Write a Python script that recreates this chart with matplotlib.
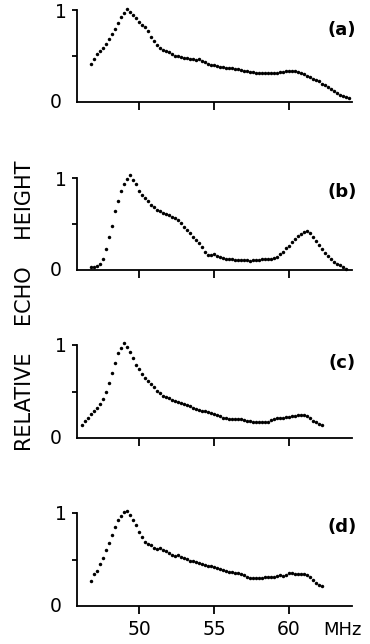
import numpy as np
import matplotlib
matplotlib.use("Agg")
import matplotlib.pyplot as plt

# ---- data (relative echo height vs frequency, dots every 0.2 MHz) ----
step_mhz = 0.2

start_a = 46.8
echo_a = [0.41, 0.47, 0.52, 0.555, 0.59, 0.63, 0.69, 0.74, 0.79, 0.86,
          0.92, 0.97, 1.01, 0.98, 0.95, 0.91, 0.87, 0.84, 0.81, 0.77,
          0.71, 0.66, 0.62, 0.59, 0.57, 0.555, 0.54, 0.525, 0.505, 0.495,
          0.485, 0.48, 0.475, 0.47, 0.465, 0.46, 0.47, 0.45, 0.43, 0.415,
          0.40, 0.40, 0.39, 0.385, 0.38, 0.375, 0.37, 0.365, 0.36, 0.355,
          0.35, 0.34, 0.335, 0.33, 0.325, 0.32, 0.315, 0.31, 0.31, 0.31,
          0.315, 0.32, 0.32, 0.325, 0.33, 0.335, 0.34, 0.34, 0.335, 0.33,
          0.315, 0.30, 0.285, 0.27, 0.255, 0.24, 0.225, 0.20, 0.18, 0.16,
          0.14, 0.12, 0.10, 0.08, 0.07, 0.055, 0.045]

start_b = 46.8
echo_b = [0.03, 0.035, 0.04, 0.06, 0.12, 0.23, 0.36, 0.48, 0.64, 0.75,
          0.86, 0.94, 0.99, 1.03, 0.98, 0.93, 0.86, 0.81, 0.78, 0.75,
          0.71, 0.68, 0.655, 0.64, 0.625, 0.61, 0.60, 0.58, 0.56, 0.54,
          0.515, 0.47, 0.44, 0.40, 0.36, 0.33, 0.29, 0.245, 0.20, 0.165,
          0.16, 0.17, 0.15, 0.14, 0.13, 0.125, 0.12, 0.115, 0.11, 0.11,
          0.105, 0.105, 0.105, 0.10, 0.105, 0.105, 0.11, 0.115, 0.12, 0.12,
          0.125, 0.13, 0.145, 0.17, 0.20, 0.235, 0.265, 0.30, 0.34, 0.37,
          0.395, 0.41, 0.42, 0.40, 0.36, 0.315, 0.27, 0.23, 0.185, 0.15,
          0.115, 0.085, 0.07, 0.055, 0.03, 0.01]

start_c = 46.2
echo_c = [0.14, 0.18, 0.22, 0.255, 0.285, 0.32, 0.365, 0.42, 0.50, 0.59,
          0.70, 0.81, 0.91, 0.97, 1.02, 0.98, 0.93, 0.86, 0.78, 0.74,
          0.69, 0.64, 0.61, 0.585, 0.55, 0.51, 0.48, 0.455, 0.44, 0.425,
          0.41, 0.40, 0.39, 0.38, 0.365, 0.35, 0.34, 0.325, 0.315, 0.30,
          0.295, 0.29, 0.275, 0.265, 0.255, 0.245, 0.235, 0.22, 0.21, 0.20,
          0.20, 0.20, 0.20, 0.20, 0.195, 0.185, 0.18, 0.175, 0.175, 0.175,
          0.175, 0.175, 0.175, 0.19, 0.20, 0.21, 0.215, 0.22, 0.225, 0.23,
          0.235, 0.24, 0.245, 0.25, 0.25, 0.24, 0.21, 0.185, 0.17, 0.15,
          0.135]

start_d = 46.8
echo_d = [0.27, 0.34, 0.38, 0.45, 0.52, 0.60, 0.68, 0.76, 0.85, 0.92,
          0.97, 1.01, 1.02, 0.98, 0.92, 0.87, 0.80, 0.74, 0.69, 0.665,
          0.655, 0.62, 0.615, 0.62, 0.60, 0.59, 0.57, 0.55, 0.54, 0.55,
          0.525, 0.515, 0.505, 0.485, 0.48, 0.475, 0.465, 0.455, 0.445, 0.435,
          0.43, 0.42, 0.405, 0.40, 0.39, 0.38, 0.37, 0.365, 0.355, 0.35,
          0.345, 0.335, 0.31, 0.305, 0.30, 0.30, 0.305, 0.305, 0.31, 0.31,
          0.31, 0.315, 0.325, 0.33, 0.32, 0.33, 0.35, 0.355, 0.345, 0.345,
          0.34, 0.34, 0.33, 0.31, 0.28, 0.245, 0.225, 0.22]

panel_labels = ["(a)", "(b)", "(c)", "(d)"]
x_ticks = [50, 55, 60]
x_tick_labels = ["50", "55", "60"]
y_ticks = [0.5, 1]
y_tick_labels = ["", "1"]
y_zero_label = "0"
x_unit = "MHz"
y_title = "RELATIVE    ECHO    HEIGHT"

series = [(start_a, echo_a), (start_b, echo_b), (start_c, echo_c), (start_d, echo_d)]

# ---- figure ----
W, H = 370, 644
fig = plt.figure(figsize=(W / 100, H / 100), dpi=100)

# axes positions in pixels: (zero-line y, top y)
panel_px = [(102, 10), (270, 178), (438, 345), (606, 513)]
x_left, x_right = 77, 352
label_y = [0.78, 0.85, 0.81, 0.85]

for i, ((start, vals), (y0, y1)) in enumerate(zip(series, panel_px)):
    ax = fig.add_axes([x_left / W, 1 - y0 / H, (x_right - x_left) / W, (y0 - y1) / H])
    freqs = start + step_mhz * np.arange(len(vals))
    ax.plot(freqs, vals, linestyle="none", marker="o", ms=2.5, mew=0,
            color="black", clip_on=False)
    ax.set_xlim(45.87, 64.2)
    ax.set_ylim(0, 1)
    for s in ["top", "right"]:
        ax.spines[s].set_visible(False)
    for s in ["left", "bottom"]:
        ax.spines[s].set_linewidth(1.3)
    ax.set_xticks(x_ticks)
    ax.set_yticks(y_ticks)
    ax.set_yticklabels(y_tick_labels, fontsize=13.5)
    ax.text(-0.055, 0.0, y_zero_label, transform=ax.transAxes, ha="right",
            va="center", fontsize=13.5)
    ax.tick_params(axis="x", direction="out", length=6, width=1.3, pad=4)
    ax.tick_params(axis="y", direction="out", length=3.5, width=1.3, pad=4)
    if i == 3:
        ax.set_xticklabels(x_tick_labels, fontsize=13.5)
        ax.text(323 / W, 1 - 630 / H, x_unit, transform=fig.transFigure,
                ha="left", va="center", fontsize=13)
    else:
        ax.set_xticklabels([])
    ax.text(0.963, label_y[i], panel_labels[i], transform=ax.transAxes,
            ha="center", va="center", fontsize=13, fontweight="bold")

fig.text(25 / W, 1 - 306 / H, y_title, rotation=90, ha="center", va="center",
         fontsize=15)

fig.savefig("out.png", dpi=100)
